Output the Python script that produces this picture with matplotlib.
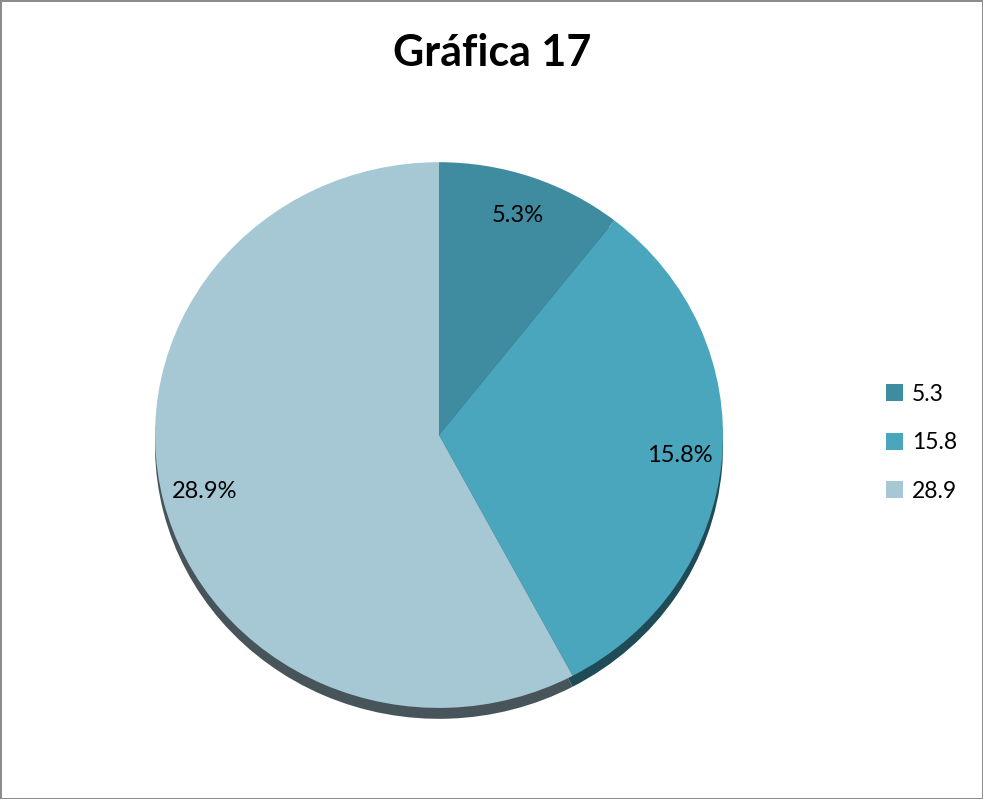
import matplotlib
matplotlib.use('Agg')
import matplotlib.pyplot as plt
from matplotlib.patches import Patch

title = "Gráfica 17"
values = [5.3, 15.8, 28.9]
legend_labels = ["5.3", "15.8", "28.9"]
colors = ["#3f8b9f", "#4aa6bd", "#a6c7d4"]
shadow_colors = ["#1f4b57", "#1f4b57", "#47555b"]

plt.rcParams['font.family'] = ['Lato', 'DejaVu Sans']

fig = plt.figure(figsize=(9.83, 7.99), dpi=100)
fig.patch.set_edgecolor('#8c8c8c')
fig.patch.set_linewidth(2)

fig.text(0.501, 0.934, title, ha='center', va='center', fontsize=31, fontweight='bold')

# pie drawn slightly squashed, like the original
cx, cy, rx, ry = 0.4466, 0.4555, 0.2889, 0.3415
ax = fig.add_axes([cx - rx, cy - 1.06 * ry, 2 * rx, 2.06 * ry])
total = sum(values)

# shadow under the pie
ax.pie(values, colors=shadow_colors, startangle=90, counterclock=False,
       center=(0, -0.04), wedgeprops=dict(linewidth=0))
ax.pie(values, colors=colors, startangle=90, counterclock=False,
       autopct=lambda p: f"{p * total / 100:.1f}%", pctdistance=0.85,
       textprops=dict(fontsize=17, color='black'),
       wedgeprops=dict(linewidth=0))
ax.set_aspect('auto')
ax.set_xlim(-1, 1)
ax.set_ylim(-1.06, 1)

handles = [Patch(facecolor=c, edgecolor='none') for c in colors]
fig.legend(handles, legend_labels, loc='center left', bbox_to_anchor=(0.901, 0.446),
           frameon=False, fontsize=16.5, handlelength=0.75, handleheight=0.75,
           handletextpad=0.4, labelspacing=1.2, borderaxespad=0, borderpad=0)

fig.savefig("out.png", dpi=100)
